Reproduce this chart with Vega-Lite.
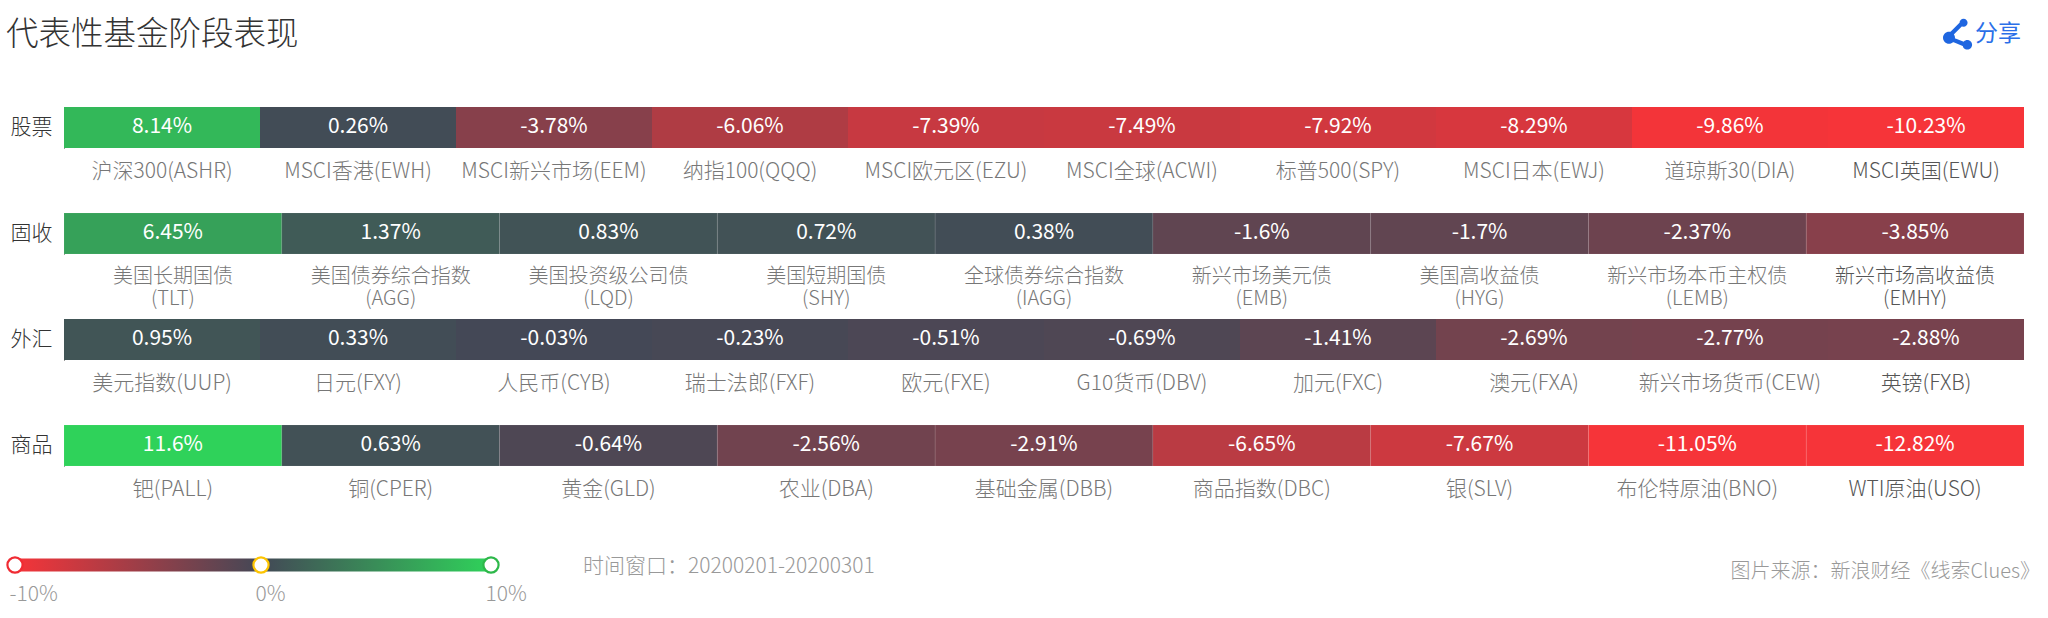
{"$schema":"https://vega.github.io/schema/vega-lite/v6.json","background":"white","padding":{"left":3,"top":0,"right":8,"bottom":19},"bounds":"flush","spacing":65,"config":{"font":"Noto Sans CJK SC","view":{"stroke":null},"axis":{"titleFont":"Noto Sans CJK SC","labelFont":"Noto Sans CJK SC"}},"datasets":{"funds":[{"group":"股票","name":"沪深300(ASHR)","value":8.14,"pct":"8.14%"},{"group":"股票","name":"MSCI香港(EWH)","value":0.26,"pct":"0.26%"},{"group":"股票","name":"MSCI新兴市场(EEM)","value":-3.78,"pct":"-3.78%"},{"group":"股票","name":"纳指100(QQQ)","value":-6.06,"pct":"-6.06%"},{"group":"股票","name":"MSCI欧元区(EZU)","value":-7.39,"pct":"-7.39%"},{"group":"股票","name":"MSCI全球(ACWI)","value":-7.49,"pct":"-7.49%"},{"group":"股票","name":"标普500(SPY)","value":-7.92,"pct":"-7.92%"},{"group":"股票","name":"MSCI日本(EWJ)","value":-8.29,"pct":"-8.29%"},{"group":"股票","name":"道琼斯30(DIA)","value":-9.86,"pct":"-9.86%"},{"group":"股票","name":"MSCI英国(EWU)","value":-10.23,"pct":"-10.23%"},{"group":"固收","name":"美国长期国债|(TLT)","value":6.45,"pct":"6.45%"},{"group":"固收","name":"美国债券综合指数|(AGG)","value":1.37,"pct":"1.37%"},{"group":"固收","name":"美国投资级公司债|(LQD)","value":0.83,"pct":"0.83%"},{"group":"固收","name":"美国短期国债|(SHY)","value":0.72,"pct":"0.72%"},{"group":"固收","name":"全球债券综合指数|(IAGG)","value":0.38,"pct":"0.38%"},{"group":"固收","name":"新兴市场美元债|(EMB)","value":-1.6,"pct":"-1.6%"},{"group":"固收","name":"美国高收益债|(HYG)","value":-1.7,"pct":"-1.7%"},{"group":"固收","name":"新兴市场本币主权债|(LEMB)","value":-2.37,"pct":"-2.37%"},{"group":"固收","name":"新兴市场高收益债|(EMHY)","value":-3.85,"pct":"-3.85%"},{"group":"外汇","name":"美元指数(UUP)","value":0.95,"pct":"0.95%"},{"group":"外汇","name":"日元(FXY)","value":0.33,"pct":"0.33%"},{"group":"外汇","name":"人民币(CYB)","value":-0.03,"pct":"-0.03%"},{"group":"外汇","name":"瑞士法郎(FXF)","value":-0.23,"pct":"-0.23%"},{"group":"外汇","name":"欧元(FXE)","value":-0.51,"pct":"-0.51%"},{"group":"外汇","name":"G10货币(DBV)","value":-0.69,"pct":"-0.69%"},{"group":"外汇","name":"加元(FXC)","value":-1.41,"pct":"-1.41%"},{"group":"外汇","name":"澳元(FXA)","value":-2.69,"pct":"-2.69%"},{"group":"外汇","name":"新兴市场货币(CEW)","value":-2.77,"pct":"-2.77%"},{"group":"外汇","name":"英镑(FXB)","value":-2.88,"pct":"-2.88%"},{"group":"商品","name":"钯(PALL)","value":11.6,"pct":"11.6%"},{"group":"商品","name":"铜(CPER)","value":0.63,"pct":"0.63%"},{"group":"商品","name":"黄金(GLD)","value":-0.64,"pct":"-0.64%"},{"group":"商品","name":"农业(DBA)","value":-2.56,"pct":"-2.56%"},{"group":"商品","name":"基础金属(DBB)","value":-2.91,"pct":"-2.91%"},{"group":"商品","name":"商品指数(DBC)","value":-6.65,"pct":"-6.65%"},{"group":"商品","name":"银(SLV)","value":-7.67,"pct":"-7.67%"},{"group":"商品","name":"布伦特原油(BNO)","value":-11.05,"pct":"-11.05%"},{"group":"商品","name":"WTI原油(USO)","value":-12.82,"pct":"-12.82%"}]},"vconcat":[{"width":1960,"height":42,"layer":[{"data":{"values":[{"t":"代表性基金阶段表现"}]},"mark":{"type":"text","align":"left","baseline":"middle","fontSize":32.5,"fontWeight":300,"color":"#333333"},"encoding":{"text":{"field":"t"},"x":{"value":-58},"y":{"value":35}}},{"data":{"values":[{"t":"分享"}]},"mark":{"type":"text","align":"right","baseline":"middle","fontSize":23,"color":"#2b6fe8"},"encoding":{"text":{"field":"t"},"x":{"value":1957},"y":{"value":34}}},{"data":{"values":[{"t":"share"}]},"mark":{"type":"point","filled":true,"opacity":1,"color":"#1f66e0","shape":"M-1,0.25A0.4,0.4 0 1 1 -0.2,0.25A0.4,0.4 0 1 1 -1,0.25ZM0.1,-0.75A0.27,0.27 0 1 1 0.64,-0.75A0.27,0.27 0 1 1 0.1,-0.75ZM0.3,0.72A0.32,0.32 0 1 1 0.94,0.72A0.32,0.32 0 1 1 0.3,0.72ZM-0.65,0L0.25,-0.9L0.45,-0.7L-0.45,0.2ZM-0.55,0.15L0.6,0.6L0.55,0.9L-0.65,0.4Z","size":900},"encoding":{"x":{"value":1894},"y":{"value":34}}}]},{"width":1960,"height":41,"data":{"name":"funds"},"transform":[{"filter":"datum.group==='股票'"}],"encoding":{"x":{"field":"name","type":"nominal","sort":null,"scale":{"paddingInner":0,"paddingOuter":0},"axis":{"title":null,"labelAngle":0,"labelExpr":"split(datum.label,'|')","labelColor":{"condition":{"test":"datum.index===1","value":"#555555"},"value":"#777777"},"labelFontSize":21,"labelFontWeight":300,"labelLimit":400,"labelPadding":12,"labelLineHeight":22,"domain":false,"ticks":false,"labelBaseline":"top"}},"y":{"field":"group","type":"nominal","scale":{"paddingInner":0,"paddingOuter":0},"axis":{"title":null,"labelFontSize":21,"labelFontWeight":300,"labelColor":"#333333","labelPadding":12,"ticks":false,"domain":true,"domainColor":"#333333","domainWidth":1}}},"layer":[{"mark":{"type":"bar"},"encoding":{"color":{"field":"value","type":"quantitative","legend":null,"scale":{"domain":[-10,0,10],"range":["#f63439","#434856","#2fd25a"],"clamp":true,"interpolate":"rgb"}}}},{"mark":{"type":"text","color":"white","fontSize":21,"fontWeight":400,"baseline":"middle","dy":-1},"encoding":{"text":{"field":"pct"}}}]},{"width":1960,"height":41,"data":{"name":"funds"},"transform":[{"filter":"datum.group==='固收'"}],"encoding":{"x":{"field":"name","type":"nominal","sort":null,"scale":{"paddingInner":0,"paddingOuter":0},"axis":{"title":null,"labelAngle":0,"labelExpr":"split(datum.label,'|')","labelColor":{"condition":{"test":"datum.index===1","value":"#555555"},"value":"#777777"},"labelFontSize":20,"labelFontWeight":300,"labelLimit":400,"labelPadding":12,"labelLineHeight":22,"domain":false,"ticks":false,"labelBaseline":"top"}},"y":{"field":"group","type":"nominal","scale":{"paddingInner":0,"paddingOuter":0},"axis":{"title":null,"labelFontSize":21,"labelFontWeight":300,"labelColor":"#333333","labelPadding":12,"ticks":false,"domain":true,"domainColor":"#333333","domainWidth":1}}},"layer":[{"mark":{"type":"bar","stroke":"#ffffff","strokeOpacity":0.15,"strokeWidth":0.5},"encoding":{"color":{"field":"value","type":"quantitative","legend":null,"scale":{"domain":[-10,0,10],"range":["#f63439","#434856","#2fd25a"],"clamp":true,"interpolate":"rgb"}}}},{"mark":{"type":"text","color":"white","fontSize":21,"fontWeight":400,"baseline":"middle","dy":-1},"encoding":{"text":{"field":"pct"}}}]},{"width":1960,"height":41,"data":{"name":"funds"},"transform":[{"filter":"datum.group==='外汇'"}],"encoding":{"x":{"field":"name","type":"nominal","sort":null,"scale":{"paddingInner":0,"paddingOuter":0},"axis":{"title":null,"labelAngle":0,"labelExpr":"split(datum.label,'|')","labelColor":{"condition":{"test":"datum.index===1","value":"#555555"},"value":"#777777"},"labelFontSize":21,"labelFontWeight":300,"labelLimit":400,"labelPadding":12,"labelLineHeight":22,"domain":false,"ticks":false,"labelBaseline":"top"}},"y":{"field":"group","type":"nominal","scale":{"paddingInner":0,"paddingOuter":0},"axis":{"title":null,"labelFontSize":21,"labelFontWeight":300,"labelColor":"#333333","labelPadding":12,"ticks":false,"domain":true,"domainColor":"#333333","domainWidth":1}}},"layer":[{"mark":{"type":"bar"},"encoding":{"color":{"field":"value","type":"quantitative","legend":null,"scale":{"domain":[-10,0,10],"range":["#f63439","#434856","#2fd25a"],"clamp":true,"interpolate":"rgb"}}}},{"mark":{"type":"text","color":"white","fontSize":21,"fontWeight":400,"baseline":"middle","dy":-1},"encoding":{"text":{"field":"pct"}}}]},{"width":1960,"height":41,"data":{"name":"funds"},"transform":[{"filter":"datum.group==='商品'"}],"encoding":{"x":{"field":"name","type":"nominal","sort":null,"scale":{"paddingInner":0,"paddingOuter":0},"axis":{"title":null,"labelAngle":0,"labelExpr":"split(datum.label,'|')","labelColor":{"condition":{"test":"datum.index===1","value":"#555555"},"value":"#777777"},"labelFontSize":21,"labelFontWeight":300,"labelLimit":400,"labelPadding":12,"labelLineHeight":22,"domain":false,"ticks":false,"labelBaseline":"top"}},"y":{"field":"group","type":"nominal","scale":{"paddingInner":0,"paddingOuter":0},"axis":{"title":null,"labelFontSize":21,"labelFontWeight":300,"labelColor":"#333333","labelPadding":12,"ticks":false,"domain":true,"domainColor":"#333333","domainWidth":1}}},"layer":[{"mark":{"type":"bar","stroke":"#ffffff","strokeOpacity":0.15,"strokeWidth":0.5},"encoding":{"color":{"field":"value","type":"quantitative","legend":null,"scale":{"domain":[-10,0,10],"range":["#f63439","#434856","#2fd25a"],"clamp":true,"interpolate":"rgb"}}}},{"mark":{"type":"text","color":"white","fontSize":21,"fontWeight":400,"baseline":"middle","dy":-1},"encoding":{"text":{"field":"pct"}}}]},{"width":1960,"height":68,"layer":[{"data":{"values":[{"lo":-10,"hi":10}]},"mark":{"type":"bar","size":13,"clip":false,"fill":{"gradient":"linear","x1":0,"x2":1,"y1":0,"y2":0,"stops":[{"offset":0,"color":"#f63439"},{"offset":0.517,"color":"#434856"},{"offset":1,"color":"#2fd25a"}]}},"encoding":{"x":{"field":"lo","type":"quantitative","scale":{"domain":[-10,0,10],"range":[-49,197,427]},"axis":{"title":null,"values":[-10,0,10],"labelExpr":"datum.value+'%'","labelAlign":"left","labelBaseline":"middle","labelOffset":-6,"labelFontSize":21,"labelFontWeight":300,"labelColor":"#999999","labelPadding":0,"domain":false,"ticks":false,"grid":false,"offset":-5}},"x2":{"field":"hi"}}},{"data":{"values":[{"value":-10},{"value":0},{"value":10}]},"mark":{"type":"point","filled":true,"fill":"white","size":230,"strokeWidth":2.2,"opacity":1,"strokeOpacity":1,"clip":false},"encoding":{"x":{"field":"value","type":"quantitative"},"stroke":{"field":"value","type":"ordinal","legend":null,"scale":{"domain":[-10,0,10],"range":["#f02b33","#fdc400","#2db84a"]}}}},{"data":{"values":[{"t":"时间窗口：20200201-20200301"}]},"mark":{"type":"text","align":"left","baseline":"middle","fontSize":21,"fontWeight":300,"color":"#999999","dy":2},"encoding":{"text":{"field":"t"},"x":{"value":519}}},{"data":{"values":[{"t":"图片来源：新浪财经《线索Clues》"}]},"mark":{"type":"text","align":"right","baseline":"middle","fontSize":20,"fontWeight":300,"color":"#999999","dy":7},"encoding":{"text":{"field":"t"},"x":{"value":1976}}}]}]}
